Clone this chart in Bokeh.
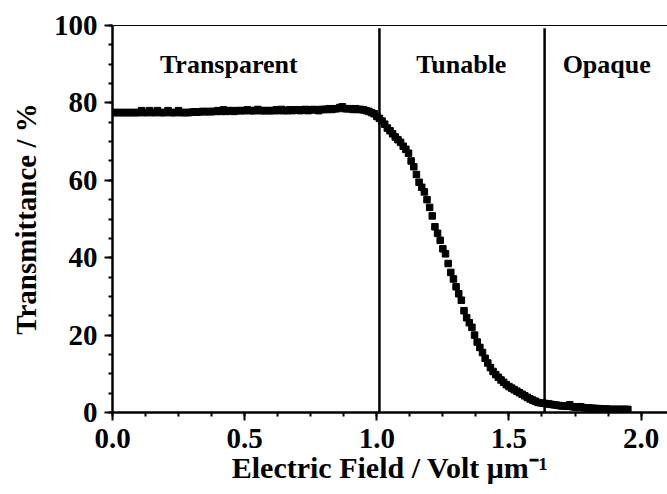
from bokeh.plotting import figure
from bokeh.models import LinearAxis, FixedTicker, Label, ColumnDataSource, Range1d
from bokeh.embed import file_html
from bokeh.resources import INLINE
import numpy as np

# ---- data ----
field_start = 0.0
field_step = 0.01
transmittance = [
    # 0.00 - 0.09
    77.5, 77.5, 77.5, 77.5, 77.5, 77.5, 77.5, 77.5, 77.5, 77.5,
    # 0.10 - 0.19
    77.5, 78.0, 77.5, 77.5, 78.0, 77.5, 77.5, 78.0, 77.5, 77.5,
    # 0.20 - 0.29
    77.5, 78.0, 77.5, 77.5, 77.5, 78.0, 77.5, 77.5, 77.5, 77.5,
    # 0.30 - 0.39
    77.6, 77.7, 77.6, 77.7, 77.8, 77.7, 77.8, 77.7, 77.8, 77.8,
    # 0.40 - 0.49
    78.0, 77.8, 78.2, 77.8, 78.0, 78.0, 77.8, 78.0, 78.0, 78.0,
    # 0.50 - 0.59
    78.0, 78.2, 78.0, 78.0, 78.0, 78.3, 78.0, 78.0, 78.0, 78.0,
    # 0.60 - 0.69
    78.0, 78.0, 78.2, 78.0, 78.3, 78.0, 78.0, 78.2, 78.0, 78.2,
    # 0.70 - 0.79
    78.2, 78.0, 78.2, 78.3, 78.0, 78.2, 78.3, 78.2, 78.0, 78.3,
    # 0.80 - 0.89
    78.3, 78.3, 78.5, 78.3, 78.5, 78.5, 78.8, 79.0, 78.5, 78.5,
    # 0.90 - 0.99
    78.5, 78.3, 78.5, 78.3, 78.3, 78.2, 78.0, 77.8, 77.5, 77.2,
    # 1.00 - 1.09
    76.5, 76.0, 75.3, 74.5, 73.5, 72.8, 72.0, 71.2, 70.5, 69.8,
    # 1.10 - 1.19
    68.8, 68.0, 67.0, 65.0, 63.5, 61.5, 59.5, 58.2, 57.0, 55.0,
    # 1.20 - 1.29
    53.0, 50.8, 48.0, 46.3, 44.5, 42.3, 41.0, 38.5, 36.2, 34.5,
    # 1.30 - 1.39
    32.5, 30.7, 29.0, 26.3, 24.5, 23.2, 22.0, 20.0, 18.2, 16.8,
    # 1.40 - 1.49
    15.5, 14.0, 12.8, 11.6, 10.6, 9.8, 9.1, 8.4, 7.8, 7.2,
    # 1.50 - 1.59
    6.7, 6.3, 5.9, 5.5, 5.1, 4.7, 4.3, 3.9, 3.5, 3.2,
    # 1.60 - 1.69
    2.9, 2.6, 2.5, 2.4, 2.3, 2.2, 2.1, 2.0, 1.9, 1.8,
    # 1.70 - 1.79
    1.7, 1.7, 1.6, 2.0, 1.5, 1.4, 1.4, 1.5, 1.3, 1.2,
    # 1.80 - 1.89
    1.2, 1.1, 1.1, 1.0, 1.0, 0.9, 0.9, 0.9, 0.8, 0.8,
    # 1.90 - 1.95
    0.8, 0.8, 0.8, 0.8, 0.8, 0.8,
]
field = list(np.round(field_start + field_step * np.arange(len(transmittance)), 2))

boundaries = [1.01, 1.635]
boundary_bottom = [0, 0]
boundary_top = [99.3, 99.3]
region_names = ["Transparent", "Tunable", "Opaque"]
region_x = [0.44, 1.32, 1.87]
region_y = [90, 90, 90]

x_ticks = [0.0, 0.5, 1.0, 1.5, 2.0]
y_ticks = [0, 20, 40, 60, 80, 100]

FONT = "Liberation Serif"

p = figure(
    output_backend="svg", toolbar_location=None,
    frame_width=555, frame_height=387,
    x_range=Range1d(0, 2.1), y_range=Range1d(0, 100),
    min_border_left=112, min_border_top=25, min_border_right=0, min_border_bottom=0,
)
p.outline_line_color = None
p.grid.visible = False
p.background_fill_color = "white"
p.border_fill_color = "white"

p.segment(x0=boundaries, y0=boundary_bottom, x1=boundaries, y1=boundary_top,
          line_color="black", line_width=2.5)

src = ColumnDataSource(dict(x=field, y=transmittance))
p.scatter("x", "y", source=src, marker="square", size=6.5, fill_color="black", line_color="black")

for name, rx, ry in zip(region_names, region_x, region_y):
    p.add_layout(Label(x=rx, y=ry, text=name, text_align="center", text_baseline="middle",
                       text_font=FONT, text_font_style="bold", text_font_size="26px", text_color="black"))

for ax in (p.xaxis[0], p.yaxis[0]):
    ax.axis_line_width = 2.5
    ax.axis_line_color = "black"
    ax.major_tick_line_width = 2
    ax.minor_tick_line_width = 2
    ax.major_tick_in = 0
    ax.minor_tick_in = 0
    ax.major_tick_out = 8
    ax.minor_tick_out = 4
    ax.major_label_text_font = FONT
    ax.major_label_text_font_style = "bold"
    ax.major_label_text_font_size = "29px"
    ax.major_label_text_color = "black"
    ax.axis_label_text_font = FONT
    ax.axis_label_text_font_style = "bold"
    ax.axis_label_text_color = "black"

p.xaxis[0].axis_label_text_font_size = "30px"
p.yaxis[0].axis_label_text_font_size = "29px"
p.xaxis[0].ticker = FixedTicker(ticks=x_ticks, minor_ticks=[i * 0.125 for i in range(17)])
p.yaxis[0].ticker = FixedTicker(ticks=y_ticks, minor_ticks=[i * 5 for i in range(21)])
p.xaxis[0].major_label_overrides = {t: f"{t:.1f}" for t in x_ticks}
p.xaxis[0].axis_label = "Electric Field / Volt \u03bcm\u207b\u00b9"
p.yaxis[0].axis_label = "Transmittance / %"
p.xaxis[0].major_label_standoff = 8
p.yaxis[0].major_label_standoff = 7
p.xaxis[0].axis_label_standoff = 0
p.yaxis[0].axis_label_standoff = 9

top = LinearAxis(ticker=FixedTicker(ticks=[]), axis_line_width=1, axis_line_color="black",
                 major_tick_out=0, minor_tick_out=0, major_label_text_font_size="0px")
p.add_layout(top, "above")

open("out.html", "w").write(file_html(p, INLINE))
